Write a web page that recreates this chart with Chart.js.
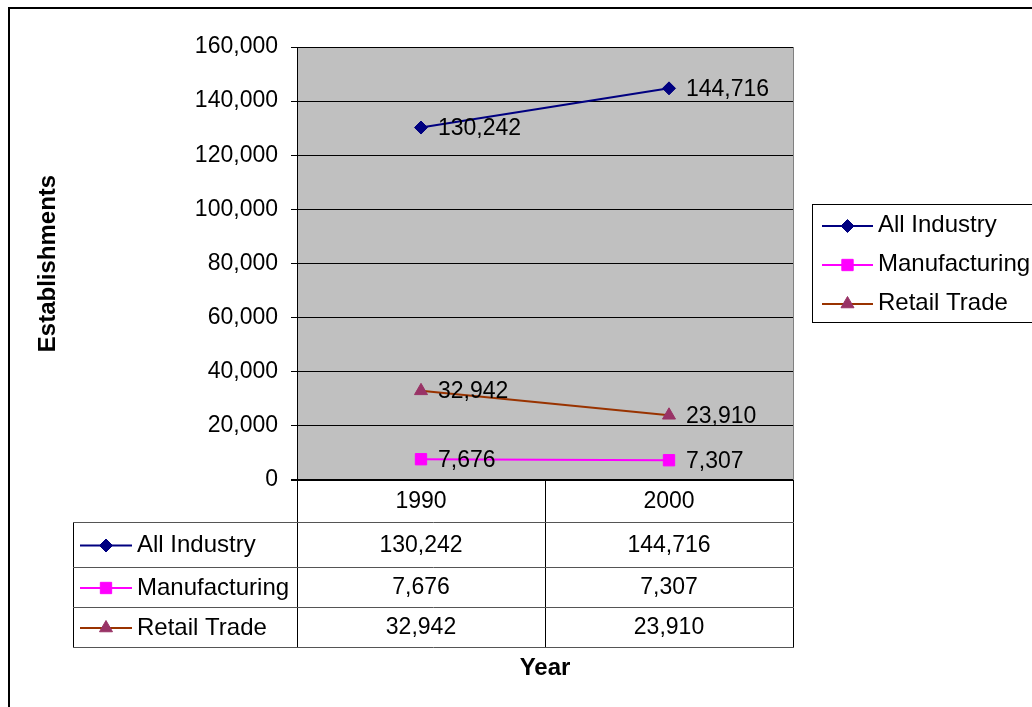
<!DOCTYPE html>
<html>
<head>
<meta charset="utf-8">
<script src="https://cdn.jsdelivr.net/npm/chart.js@4.4.0/dist/chart.umd.min.js"></script>
<style>
  html, body { margin: 0; padding: 0; background: #fff; }
  canvas { display: block; }
</style>
</head>
<body>
<canvas id="c" width="1032" height="707"></canvas>
<script>
const categories = ['1990', '2000'];
const seriesNames = ['All Industry', 'Manufacturing', 'Retail Trade'];
const allIndustry = [130242, 144716];
const manufacturing = [7676, 7307];
const retailTrade = [32942, 23910];
const yMin = 0, yMax = 160000, yStep = 20000;
const yTitle = 'Establishments';
const xTitle = 'Year';

const FONT = '"Liberation Sans", Arial, sans-serif';
const fmt = v => v.toLocaleString('en-US');

const styles = [
  { line: '#000080', fill: '#000080', point: 'rectRot', radius: 6.5 },
  { line: '#FF00FF', fill: '#FF00FF', point: 'rect', radius: 8 },
  { line: '#993300', fill: '#993366', point: 'triangle', radius: 7.5 }
];
const seriesData = [allIndustry, manufacturing, retailTrade];

function marker(ctx, s, x, y) {
  ctx.save();
  ctx.fillStyle = s.fill;
  ctx.strokeStyle = s.fill;
  Chart.helpers.drawPoint(ctx, { pointStyle: s.point, radius: s.radius, rotation: 0, borderWidth: 1 }, x, y);
  ctx.restore();
}
function legendSymbol(ctx, s, x1, x2, y) {
  ctx.save();
  ctx.strokeStyle = s.line; ctx.lineWidth = 2;
  ctx.beginPath(); ctx.moveTo(x1, y); ctx.lineTo(x2, y); ctx.stroke();
  ctx.restore();
  marker(ctx, s, (x1 + x2) / 2, y);
}

const decor = {
  id: 'decor',
  beforeDraw(chart) {
    const { ctx, chartArea: a } = chart;
    ctx.save();
    ctx.fillStyle = '#fff';
    ctx.fillRect(0, 0, chart.width, chart.height);
    ctx.fillStyle = '#c0c0c0';
    ctx.fillRect(a.left, a.top, a.right - a.left, a.bottom - a.top);
    ctx.restore();
  },
  afterDatasetsDraw(chart) {
    const { ctx } = chart;
    ctx.save();
    ctx.font = '23px ' + FONT;
    ctx.fillStyle = '#000';
    ctx.textBaseline = 'middle';
    ctx.textAlign = 'left';
    chart.data.datasets.forEach((ds, i) => {
      chart.getDatasetMeta(i).data.forEach((pt, j) => {
        ctx.fillText(fmt(ds.data[j]), pt.x + 17, pt.y + 1);
      });
    });
    ctx.restore();
  },
  afterDraw(chart) {
    const { ctx, chartArea: a, scales: { x } } = chart;
    ctx.save();
    // right plot border
    ctx.strokeStyle = '#808080'; ctx.lineWidth = 1;
    ctx.beginPath(); ctx.moveTo(a.right + 0.5, a.top); ctx.lineTo(a.right + 0.5, a.bottom); ctx.stroke();

    // data table
    const px = categories.map((c, i) => x.getPixelForValue(i));
    const mid = (px[0] + px[1]) / 2;
    const tLeft = 73;
    const headTop = a.bottom, headBot = 522;
    const rows = [522, 567, 607, 647];
    ctx.strokeStyle = '#000'; ctx.lineWidth = 1;
    ctx.beginPath();
    ctx.moveTo(a.left + 0.5, headTop); ctx.lineTo(a.left + 0.5, rows[3]);
    ctx.moveTo(Math.round(mid) + 0.5, headTop); ctx.lineTo(Math.round(mid) + 0.5, rows[3]);
    ctx.moveTo(a.right + 0.5, headTop); ctx.lineTo(a.right + 0.5, rows[3]);
    ctx.moveTo(tLeft + 0.5, rows[0]); ctx.lineTo(tLeft + 0.5, rows[3]);
    ctx.stroke();
    ctx.strokeStyle = '#555';
    ctx.beginPath();
    rows.forEach(r => { ctx.moveTo(tLeft, r + 0.5); ctx.lineTo(a.right + 1, r + 0.5); });
    ctx.stroke();

    ctx.fillStyle = '#000';
    ctx.textBaseline = 'middle';
    ctx.textAlign = 'center';
    ctx.font = '23px ' + FONT;
    categories.forEach((c, i) => ctx.fillText(c, px[i], (headTop + headBot) / 2 + 1));
    seriesNames.forEach((n, r) => {
      const cy = (rows[r] + rows[r + 1]) / 2 + 1;
      ctx.textAlign = 'center';
      ctx.font = '23px ' + FONT;
      seriesData[r].forEach((v, i) => ctx.fillText(fmt(v), px[i], cy));
      ctx.textAlign = 'left';
      ctx.font = '24px ' + FONT;
      ctx.fillText(n, 137, cy);
      legendSymbol(ctx, styles[r], 80, 132, cy);
    });

    // legend box
    ctx.strokeStyle = '#000'; ctx.lineWidth = 1;
    ctx.strokeRect(812.5, 204.5, 240, 118);
    const ly = [226, 265, 304];
    seriesNames.forEach((n, r) => {
      legendSymbol(ctx, styles[r], 822, 873, ly[r]);
      ctx.fillStyle = '#000';
      ctx.textAlign = 'left';
      ctx.textBaseline = 'middle';
      ctx.font = '24px ' + FONT;
      ctx.fillText(n, 878, ly[r] - 1);
    });

    // x title
    ctx.font = 'bold 24px ' + FONT;
    ctx.textAlign = 'center';
    ctx.textBaseline = 'middle';
    ctx.fillText(xTitle, (a.left + a.right) / 2, 668);

    // outer border
    ctx.strokeStyle = '#000'; ctx.lineWidth = 2;
    ctx.strokeRect(9, 8, 1100, 800);
    ctx.restore();
  }
};

const ds = seriesNames.map((n, i) => ({
  label: n,
  data: seriesData[i],
  borderColor: styles[i].line,
  backgroundColor: styles[i].fill,
  pointBackgroundColor: styles[i].fill,
  pointBorderColor: styles[i].fill,
  pointStyle: styles[i].point,
  pointRadius: styles[i].radius,
  pointBorderWidth: 1,
  borderWidth: 2,
  tension: 0
}));

new Chart(document.getElementById('c'), {
  type: 'line',
  data: { labels: categories, datasets: ds },
  plugins: [decor],
  options: {
    responsive: false,
    animation: false,
    devicePixelRatio: 1,
    layout: { padding: { left: 0, top: 47, right: 239, bottom: 227 } },
    plugins: { legend: { display: false }, tooltip: { enabled: false } },
    scales: {
      x: { type: 'category', offset: true, display: false },
      y: {
        min: yMin, max: yMax,
        afterFit(s) { s.width = 297; },
        ticks: {
          stepSize: yStep,
          color: '#000',
          padding: 13,
          font: { family: FONT, size: 23 },
          callback: v => fmt(v)
        },
        grid: {
          color: '#000',
          lineWidth: c => (c.tick && c.tick.value === 0 ? 2 : 1),
          tickLength: 6,
          tickColor: '#000',
          drawTicks: true
        },
        border: { display: true, color: '#000', width: 1 },
        title: {
          display: true,
          text: yTitle,
          color: '#000',
          font: { family: FONT, size: 24, weight: 'bold', lineHeight: 1.2 },
          padding: { top: 34, bottom: 0 }
        }
      }
    }
  }
});
</script>
</body>
</html>
